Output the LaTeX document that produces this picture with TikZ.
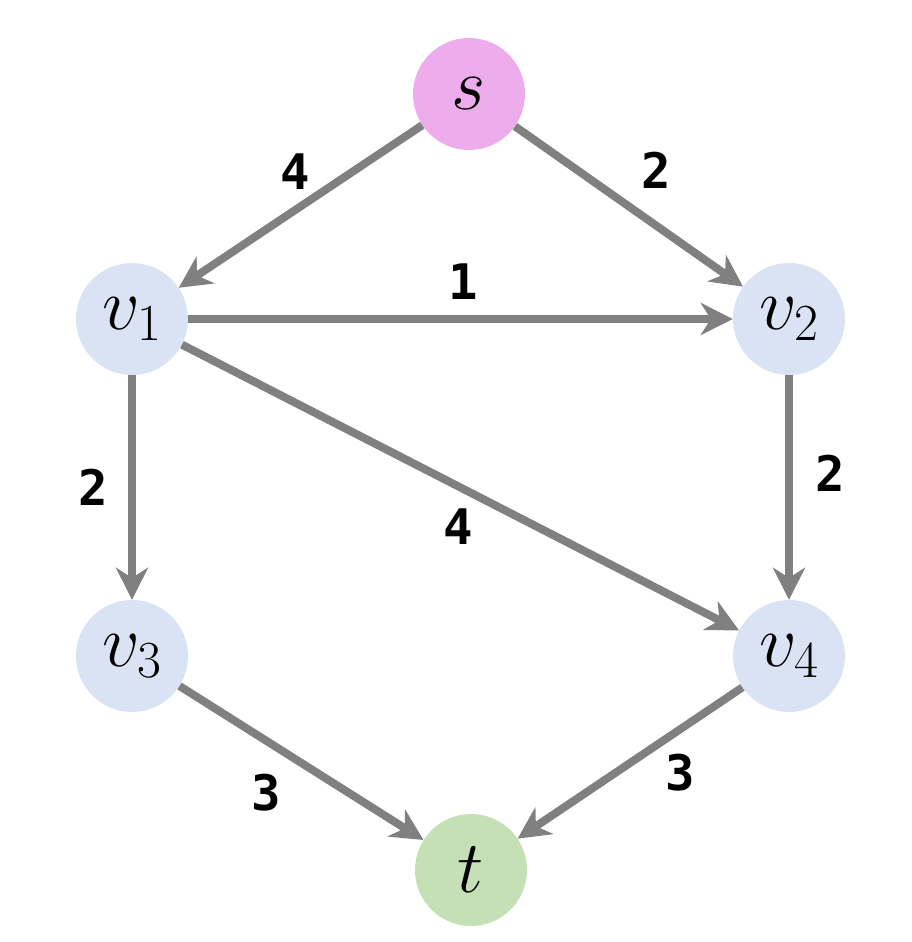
\RequirePackage{fix-cm}
\documentclass[tikz,border=0pt]{standalone}
\usepackage{fontspec}
\newfontfamily\labfont{DejaVu Sans Mono}
\usetikzlibrary{arrows.meta}
\definecolor{edgegray}{RGB}{128,128,128}
\definecolor{sfill}{RGB}{237,173,236}
\definecolor{vfill}{RGB}{218,227,243}
\definecolor{tfill}{RGB}{197,224,180}
\DeclareMathSizes{74}{74}{52}{38}
\tikzset{
  vert/.style={circle, minimum size=112pt, inner sep=0pt, font=\fontsize{74}{86}\selectfont},
  edge/.style={draw=edgegray, line width=8pt, -{Stealth[length=32pt,width=32pt,inset=10pt]}},
  wlabel/.style={font=\fontsize{49}{54}\selectfont\labfont\bfseries, inner sep=0pt}
}
\begin{document}
\begin{tikzpicture}[x=1pt,y=-1pt]
\useasboundingbox (0,0) rectangle (911,942);
\node[vert, fill=sfill] (s) at (469,94) {$s$};
\node[vert, fill=vfill] (v1) at (132,319) {$v_1$};
\node[vert, fill=vfill] (v2) at (789,319) {$v_2$};
\node[vert, fill=vfill] (v3) at (132,656) {$v_3$};
\node[vert, fill=vfill] (v4) at (789,656) {$v_4$};
\node[vert, fill=tfill] (t) at (471,870) {$t$};
\draw[edge] (s) -- (v1);
\draw[edge] (s) -- (v2);
\draw[edge] (v1) -- (v2);
\draw[edge] (v1) -- (v3);
\draw[edge] (v1) -- (v4);
\draw[edge] (v2) -- (v4);
\draw[edge] (v3) -- (t);
\draw[edge] (v4) -- (t);
\node[wlabel] (l1) at (295,172) {4};
\node[wlabel] (l2) at (656,170) {2};
\node[wlabel] (l3) at (463,282) {1};
\node[wlabel] (l4) at (93,487) {2};
\node[wlabel] (l5) at (458,527) {4};
\node[wlabel] (l6) at (830,473) {2};
\node[wlabel] (l7) at (266,793) {3};
\node[wlabel] (l8) at (680,773) {3};
\end{tikzpicture}
\end{document}
